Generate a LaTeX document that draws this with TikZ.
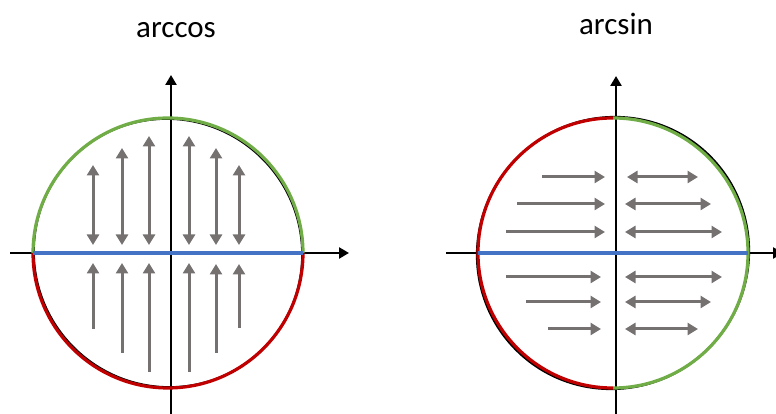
\documentclass[tikz,border=0pt]{standalone}
\usepackage{fontspec}
\setmainfont{Carlito}
\usetikzlibrary{arrows.meta}

\definecolor{upGreen}{RGB}{112,173,71}
\definecolor{downRed}{RGB}{192,0,0}
\definecolor{diamBlue}{RGB}{68,114,196}
\definecolor{flowGray}{RGB}{118,113,113}

\tikzset{
    axis/.style = {black, line width=2.6pt, -{Triangle[length=10pt,width=11pt]}},
    flow/.style = {flowGray, line width=3pt, -{Triangle[length=10.5pt,width=12pt]}},
    flowBoth/.style = {flowGray, line width=3pt, {Triangle[length=10.5pt,width=12pt]}-{Triangle[length=10.5pt,width=12pt]}},
    rim/.style = {line width=3.2pt},
    title/.style = {anchor=base, font=\fontsize{31}{37}\selectfont}
}

\begin{document}
\begin{tikzpicture}[x=1pt, y=1pt]

    \useasboundingbox (0,0) rectangle (776,414);

    \def\rad{135}
    \def\cy{161}

    % arccos circle params
    \def\cxA{168}
    \def\axA{171}

    % arcsin circle params
    \def\cxB{613}
    \def\axB{616}

    %% arccos
    \node[title] (titleA) at (176, 376) {arccos};

    % draw axes
    \draw[axis] (10, \cy) -- (349, \cy);
    \draw[axis] (\axA, 0) -- (\axA, 339);

    % draw circle
    \draw[black, line width=2.2pt, rotate around={45:(\cxA,\cy)}] (\cxA, \cy) ellipse (133.5 and \rad);
    \draw[rim, upGreen] (\cxA + \rad, \cy) arc(0:180:\rad);
    \draw[rim, downRed] (\cxA - \rad, \cy) arc(180:360:\rad);

    % draw diameter
    \draw[rim, diamBlue] (\cxA - \rad, \cy) -- (\cxA + \rad, \cy);

    % draw upper arrows
    \draw[flowBoth] (93, 169) -- (93, 249);
    \draw[flowBoth] (122, 169) -- (122, 266);
    \draw[flowBoth] (149, 169) -- (149, 278);
    \draw[flowBoth] (189, 169) -- (189, 278);
    \draw[flowBoth] (216, 169) -- (216, 266);
    \draw[flowBoth] (239, 169) -- (239, 249);

    % draw lower arrows
    \draw[flow] (93, 85) -- (93, 151);
    \draw[flow] (122, 61) -- (122, 151);
    \draw[flow] (149, 42) -- (149, 151);
    \draw[flow] (189, 42) -- (189, 151);
    \draw[flow] (216, 61) -- (216, 150);
    \draw[flow] (239, 86) -- (239, 150);

    %% arcsin
    \node[title] (titleB) at (616, 379) {arcsin};

    % draw axes
    \draw[axis] (446, \cy) -- (783, \cy);
    \draw[axis] (\axB, 0) -- (\axB, 338);

    % draw circle
    \draw[black, line width=2.2pt, rotate around={45:(\cxB,\cy)}] (\cxB, \cy) ellipse (137 and \rad);
    \draw[rim, upGreen] (\cxB, \cy - \rad) arc(-90:90:\rad);
    \draw[rim, downRed] (\cxB, \cy + \rad) arc(90:270:\rad);

    % draw diameter
    \draw[rim, diamBlue] (\cxB - \rad, \cy) -- (\cxB + \rad, \cy);

    % draw left arrows
    \draw[flow] (542, 237) -- (605, 237);
    \draw[flow] (517, 210) -- (605, 210);
    \draw[flow] (506, 182) -- (605, 182);
    \draw[flow] (506, 137) -- (601, 137);
    \draw[flow] (526, 112) -- (601, 112);
    \draw[flow] (548, 85) -- (601, 85);

    % draw right arrows
    \draw[flowBoth] (627, 237) -- (698, 237);
    \draw[flowBoth] (625, 210) -- (711, 210);
    \draw[flowBoth] (625, 182) -- (722, 182);
    \draw[flowBoth] (625, 137) -- (722, 137);
    \draw[flowBoth] (625, 112) -- (711, 112);
    \draw[flowBoth] (625, 85) -- (698, 85);

\end{tikzpicture}
\end{document}
